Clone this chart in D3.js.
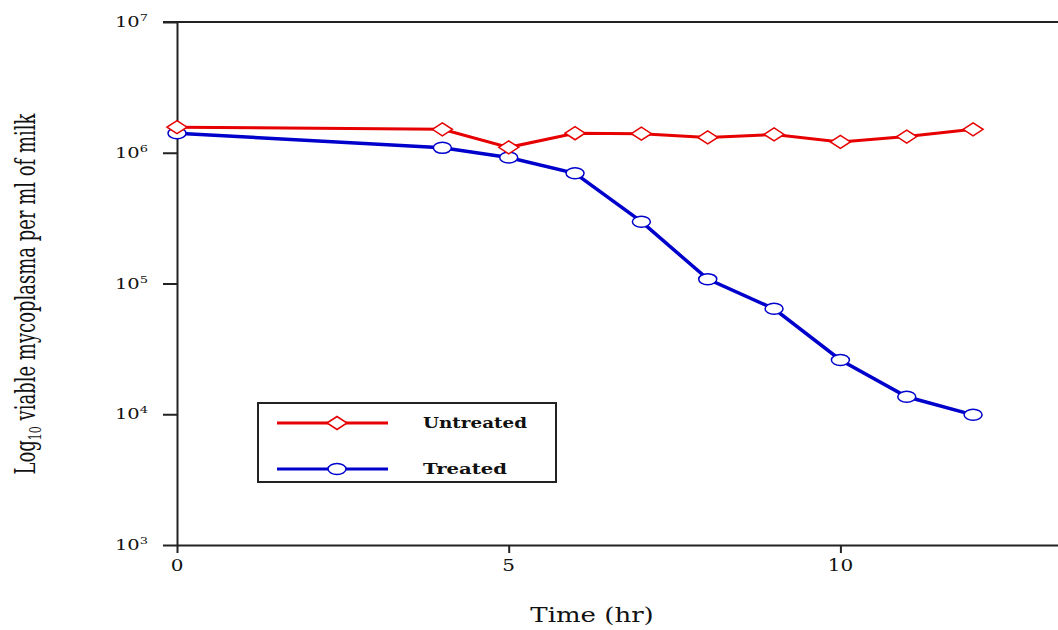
<!DOCTYPE html>
<html>
<head>
<meta charset="utf-8">
<script src="https://cdn.jsdelivr.net/npm/d3@7"></script>
<style>
  body { margin: 0; background: #fff; }
  text { font-family: "DejaVu Serif", "Liberation Serif", serif; fill: #111; }
</style>
</head>
<body>
<svg id="chart" width="1058" height="630"></svg>
<script>
// data (viable count per ml)
const hours = [0, 4, 5, 6, 7, 8, 9, 10, 11, 12];
const untreated = [1.57e6, 1.51e6, 1.10e6, 1.41e6, 1.40e6, 1.31e6, 1.38e6, 1.21e6, 1.33e6, 1.51e6];
const treated = [1.41e6, 1.09e6, 9.2e5, 6.96e5, 2.97e5, 1.08e5, 6.4e4, 2.6e4, 1.36e4, 9.9e3];
const yTicks = [1e3, 1e4, 1e5, 1e6, 1e7];
const xTicks = [0, 5, 10];
const seriesNames = ['Untreated', 'Treated'];

const svg = d3.select('#chart');
const W = 1058;

const x = d3.scaleLinear().domain([0, 13.28]).range([177, 1058]);
const y = d3.scaleLog().domain([1e3, 1e7]).range([545, 22]);

// axes
const yAxis = d3.axisLeft(y).tickValues(yTicks).tickSize(14).tickSizeOuter(0).tickFormat('');
const gy = svg.append('g').attr('transform', 'translate(177,0)').call(yAxis);
gy.selectAll('line, path').attr('stroke', '#222').attr('stroke-width', 2);

const xAxis = d3.axisBottom(x).tickValues(xTicks).tickSize(8).tickSizeOuter(0).tickFormat('');
const gx = svg.append('g').attr('transform', 'translate(0,545)').call(xAxis);
gx.selectAll('line, path').attr('stroke', '#222').attr('stroke-width', 2);

// top rule at 10^7 running to the right edge
svg.append('line')
  .attr('x1', 163).attr('x2', W)
  .attr('y1', y(1e7)).attr('y2', y(1e7))
  .attr('stroke', '#222').attr('stroke-width', 2);

// y tick labels 10^n
yTicks.forEach(v => {
  const t = svg.append('text')
    .attr('transform', `translate(148,${y(v) + 5}) scale(1.3,1)`)
    .attr('text-anchor', 'end')
    .attr('font-size', 15);
  t.append('tspan').text('10');
  t.append('tspan').attr('font-size', 10).attr('dy', -6).text(Math.round(Math.log10(v)));
});

// x tick labels
xTicks.forEach(v => {
  svg.append('text')
    .attr('transform', `translate(${x(v)},571) scale(1.25,1)`)
    .attr('text-anchor', 'middle')
    .attr('font-size', 16)
    .text(v);
});

// axis titles
svg.append('text')
  .attr('transform', 'translate(592,622) scale(1.3,1)')
  .attr('text-anchor', 'middle')
  .attr('font-size', 20)
  .text('Time (hr)');

const yl = svg.append('text')
  .attr('transform', 'translate(35,294) scale(1.55,1) rotate(-90)')
  .attr('text-anchor', 'middle')
  .attr('font-size', 18);
yl.append('tspan').text('Log');
yl.append('tspan').attr('font-size', 11).attr('dy', 4).text('10');
yl.append('tspan').attr('dy', -4).text(' viable mycoplasma per ml of milk');

// series
const red = '#e60000', blue = '#0000cc';
const line = d3.line().x(d => x(d[0])).y(d => y(d[1]));
const redPts = hours.map((h, i) => [h, untreated[i]]);
const bluePts = hours.map((h, i) => [h, treated[i]]);

svg.append('path').datum(bluePts).attr('d', line)
  .attr('fill', 'none').attr('stroke', blue).attr('stroke-width', 3.5);
svg.append('path').datum(redPts).attr('d', line)
  .attr('fill', 'none').attr('stroke', red).attr('stroke-width', 3);

const diamond = (cx, cy) => `M${cx - 10},${cy}L${cx},${cy - 6.5}L${cx + 10},${cy}L${cx},${cy + 6.5}Z`;

svg.append('g').selectAll('ellipse').data(bluePts).join('ellipse')
  .attr('cx', d => x(d[0])).attr('cy', d => y(d[1]))
  .attr('rx', 9).attr('ry', 5.5)
  .attr('fill', '#fff').attr('stroke', blue).attr('stroke-width', 1.5);

svg.append('g').selectAll('path').data(redPts).join('path')
  .attr('d', d => diamond(x(d[0]), y(d[1])))
  .attr('fill', '#fff').attr('stroke', red).attr('stroke-width', 1.5);

// legend
const lg = svg.append('g');
lg.append('rect').attr('x', 258).attr('y', 403).attr('width', 298).attr('height', 79)
  .attr('fill', '#fff').attr('stroke', '#222').attr('stroke-width', 2);
const legendRows = [
  { name: seriesNames[0], color: red, yy: 423 },
  { name: seriesNames[1], color: blue, yy: 469 }
];
legendRows.forEach((r, i) => {
  lg.append('line').attr('x1', 277).attr('x2', 388).attr('y1', r.yy).attr('y2', r.yy)
    .attr('stroke', r.color).attr('stroke-width', 3);
  if (i === 0) {
    lg.append('path').attr('d', diamond(337, r.yy))
      .attr('fill', '#fff').attr('stroke', red).attr('stroke-width', 1.5);
  } else {
    lg.append('ellipse').attr('cx', 337).attr('cy', r.yy).attr('rx', 9).attr('ry', 5.5)
      .attr('fill', '#fff').attr('stroke', blue).attr('stroke-width', 1.5);
  }
  lg.append('text').attr('x', 423).attr('y', r.yy + 5)
    .attr('font-size', 15).attr('font-weight', 'bold')
    .attr('textLength', i === 0 ? 104 : 84).attr('lengthAdjust', 'spacingAndGlyphs')
    .text(r.name);
});
</script>
</body>
</html>
